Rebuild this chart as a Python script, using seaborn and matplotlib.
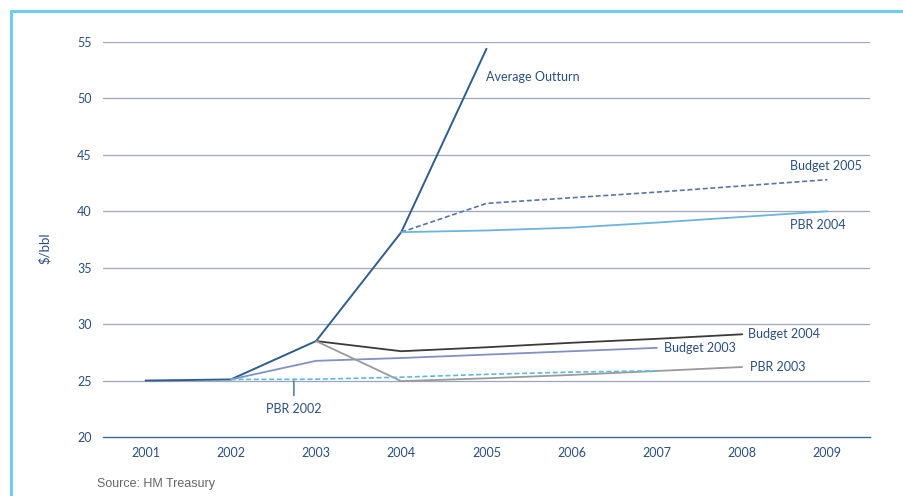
import matplotlib
matplotlib.use("Agg")
import matplotlib.pyplot as plt
from matplotlib.lines import Line2D
import seaborn as sns
import pandas as pd
import numpy as np

years = ["2001", "2002", "2003", "2004", "2005", "2006", "2007", "2008", "2009"]

avg_outturn_years = ["2001", "2002", "2003", "2004", "2005"]
avg_outturn = [25.0, 25.1, 28.5, 38.15, 54.4]

budget2005_years = ["2004", "2005", "2006", "2007", "2008", "2009"]
budget2005 = [38.15, 40.7, 41.2, 41.7, 42.25, 42.8]

pbr2004_years = ["2004", "2005", "2006", "2007", "2008", "2009"]
pbr2004 = [38.15, 38.3, 38.55, 39.0, 39.5, 40.0]

budget2004_years = ["2003", "2004", "2005", "2006", "2007", "2008"]
budget2004 = [28.5, 27.6, 27.95, 28.35, 28.7, 29.1]

budget2003_years = ["2002", "2003", "2004", "2005", "2006", "2007"]
budget2003 = [25.1, 26.75, 27.0, 27.3, 27.6, 27.9]

pbr2003_years = ["2003", "2004", "2005", "2006", "2007", "2008"]
pbr2003 = [28.5, 24.95, 25.2, 25.5, 25.85, 26.2]

pbr2002_years = ["2002", "2003", "2004", "2005", "2006", "2007"]
pbr2002 = [25.1, 25.12, 25.3, 25.55, 25.75, 25.87]

yticks = [20, 25, 30, 35, 40, 45, 50, 55]

series = [
    ("Average Outturn", avg_outturn_years, avg_outturn, "#2f5d8c", "-", 1.4),
    ("Budget 2005", budget2005_years, budget2005, "#5a74a6", (0, (3, 1.6)), 1.2),
    ("PBR 2004", pbr2004_years, pbr2004, "#6cb4e0", "-", 1.3),
    ("Budget 2004", budget2004_years, budget2004, "#3a3a3a", "-", 1.3),
    ("Budget 2003", budget2003_years, budget2003, "#8390c4", "-", 1.3),
    ("PBR 2003", pbr2003_years, pbr2003, "#9a9a9a", "-", 1.3),
    ("PBR 2002", pbr2002_years, pbr2002, "#5bbbe3", (0, (3, 1.6)), 1.2),
]

rows = []
for name, yrs, vals, *_ in series:
    for y, v in zip(yrs, vals):
        rows.append({"series": name, "pos": years.index(y), "value": v})
df = pd.DataFrame(rows)

sns.set_theme(style="white")
plt.rcParams["font.family"] = ["Lato", "DejaVu Sans"]

fig = plt.figure(figsize=(9.04, 4.96), dpi=100)
ax = fig.add_axes([103 / 904, 1 - 437 / 496, (870 - 103) / 904, (437 - 42) / 496])

text_col = "#2b4f80"
grid_col = "#9ea6bd"

for yv in yticks[1:]:
    ax.axhline(yv, color=grid_col, lw=0.9, zorder=0)

for name, yrs, vals, col, ls, lw in series:
    sub = df[df["series"] == name]
    sns.lineplot(data=sub, x="pos", y="value", ax=ax, color=col, lw=lw,
                 linestyle=ls, sort=False, estimator=None, legend=False, zorder=3)

ax.set_xlim(-0.5, len(years) - 0.5)
ax.set_ylim(20, 55)
ax.set_xticks(range(len(years)))
ax.set_xticklabels(years)
ax.set_xticks(np.arange(-0.5, len(years), 1.0), minor=True)
ax.set_yticks(yticks)
ax.set_xlabel("")
ax.set_ylabel("")
for s in ["top", "right", "left"]:
    ax.spines[s].set_visible(False)
ax.spines["bottom"].set_color("#3a6a98")
ax.spines["bottom"].set_linewidth(1.0)
ax.tick_params(axis="x", which="major", length=0, pad=7, labelsize=9, labelcolor=text_col)
ax.tick_params(axis="x", which="minor", length=4, width=1.0, color="#3a6a98", direction="inout")
ax.tick_params(axis="y", length=0, pad=8, labelsize=9, labelcolor=text_col)

lab_kw = dict(color=text_col, fontsize=9)
ax.annotate("Average Outturn", xy=(4, 54.4), xytext=(0, -20), textcoords="offset points",
            ha="left", va="center", **lab_kw)
ax.annotate("Budget 2005", xy=(8, 42.8), xytext=(25, 10), textcoords="offset points",
            ha="right", va="center", **lab_kw)
ax.annotate("PBR 2004", xy=(8, 40.0), xytext=(13, -10), textcoords="offset points",
            ha="right", va="center", **lab_kw)
ax.annotate("Budget 2004", xy=(7, 29.1), xytext=(4, 0), textcoords="offset points",
            ha="left", va="center", **lab_kw)
ax.annotate("Budget 2003", xy=(6, 27.9), xytext=(5, 0), textcoords="offset points",
            ha="left", va="center", **lab_kw)
ax.annotate("PBR 2003", xy=(7, 26.2), xytext=(6, 0), textcoords="offset points",
            ha="left", va="center", **lab_kw)
ax.annotate("PBR 2002", xy=(1.74, 25.1), xytext=(0, -17), textcoords="offset points",
            ha="center", va="top", **lab_kw,
            arrowprops=dict(arrowstyle="-", color="#3a6a98", lw=1.0, shrinkA=3, shrinkB=1))

fig.text(45 / 904, 1 - 248 / 496, "$/bbl", rotation=90, ha="center", va="center",
         color=text_col, fontsize=9.5)
fig.text(97 / 904, 1 - 484 / 496, "Source: HM Treasury", ha="left", va="center",
         color="#666666", fontsize=9, family=["Liberation Sans", "DejaVu Sans"])

border = "#6fcdf4"
fig.add_artist(Line2D([11 / 904, 1.0], [1 - 11 / 496, 1 - 11 / 496], color=border, lw=2.2,
                      transform=fig.transFigure))
fig.add_artist(Line2D([11 / 904, 11 / 904], [0, 1 - 11 / 496], color=border, lw=2.2,
                      transform=fig.transFigure))

fig.savefig("out.png", dpi=100)
